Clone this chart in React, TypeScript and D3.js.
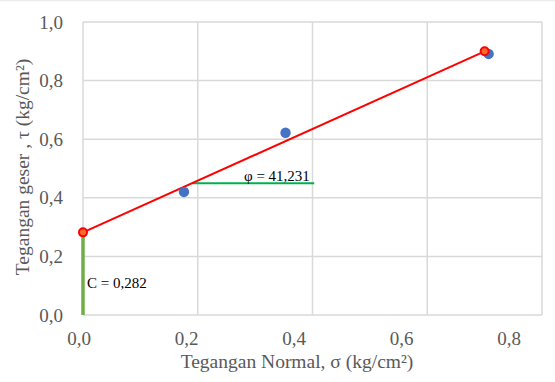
import { useEffect, useRef } from 'react'
import * as d3 from 'd3'

// measured points (normal stress vs shear stress)
const sigmaValues = [0.176, 0.353, 0.707]
const tauValues = [0.42, 0.622, 0.891]

// failure envelope end points
const envelopeSigma = [0, 0.7]
const envelopeTau = [0.282, 0.9]

const cohesion = 0.282
const cohesionLabel = 'C = 0,282'
const phiLabel = 'φ = 41,231'
const phiLineSigma = [0.19, 0.403]
const phiLineTau = 0.45

const xTicks = [0, 0.2, 0.4, 0.6, 0.8]
const yTicks = [0, 0.2, 0.4, 0.6, 0.8, 1.0]

const xTitle = 'Tegangan Normal, σ (kg/cm²)'
const yTitle = 'Tegangan geser , τ (kg/cm²)'

const fmt = (v: number) => v.toFixed(1).replace('.', ',')

export default function App() {
  const svgRef = useRef<SVGSVGElement>(null)
  const width = 555
  const height = 382

  useEffect(() => {
    if (!svgRef.current) return
    const svg = d3.select(svgRef.current)
    svg.selectAll('*').remove()

    const x = d3.scaleLinear().domain([0, 0.8]).range([83, 542])
    const y = d3.scaleLinear().domain([0, 1]).range([315, 22])
    // tick labels sit slightly left of their gridlines in the original
    const xLab = d3.scaleLinear().domain([0, 0.8]).range([79, 509])

    const font = "'Liberation Serif', 'Times New Roman', serif"

    // faint frame line at top
    svg.append('line')
      .attr('x1', 0).attr('x2', width)
      .attr('y1', 0.5).attr('y2', 0.5)
      .style('stroke', '#ececec')
      .style('stroke-width', '1.5px')

    // gridlines
    svg.selectAll('line.hgrid')
      .data(yTicks)
      .enter()
      .append('line')
      .attr('class', 'hgrid')
      .attr('x1', x(0)).attr('x2', x(0.8))
      .attr('y1', d => y(d)).attr('y2', d => y(d))
      .style('stroke', '#d9d9d9')
      .style('stroke-width', '1.5px')

    svg.selectAll('line.vgrid')
      .data(xTicks)
      .enter()
      .append('line')
      .attr('class', 'vgrid')
      .attr('x1', d => x(d)).attr('x2', d => x(d))
      .attr('y1', y(0)).attr('y2', y(1))
      .style('stroke', '#d9d9d9')
      .style('stroke-width', '1.5px')

    // tick labels
    yTicks.forEach(t => {
      svg.append('text')
        .attr('x', 63)
        .attr('y', y(t) + 6.5)
        .attr('text-anchor', 'end')
        .style('fill', '#595959')
        .style('font-size', '19px')
        .style('font-family', font)
        .text(fmt(t))
    })

    xTicks.forEach(t => {
      svg.append('text')
        .attr('x', xLab(t))
        .attr('y', 345)
        .attr('text-anchor', 'middle')
        .style('fill', '#595959')
        .style('font-size', '19px')
        .style('font-family', font)
        .text(fmt(t))
    })

    // axis titles
    svg.append('text')
      .attr('x', 297)
      .attr('y', 368)
      .attr('text-anchor', 'middle')
      .style('fill', '#595959')
      .style('font-size', '19.5px')
      .style('font-family', font)
      .text(xTitle)

    svg.append('text')
      .attr('transform', 'translate(29,167) rotate(-90)')
      .attr('text-anchor', 'middle')
      .style('fill', '#595959')
      .style('font-size', '19.5px')
      .style('font-family', font)
      .text(yTitle)

    // cohesion bar
    svg.append('line')
      .attr('x1', x(0)).attr('x2', x(0))
      .attr('y1', y(0)).attr('y2', y(cohesion))
      .style('stroke', '#70AD47')
      .style('stroke-width', '3.5px')

    // friction angle reference line
    svg.append('line')
      .attr('x1', x(phiLineSigma[0])).attr('x2', x(phiLineSigma[1]))
      .attr('y1', y(phiLineTau)).attr('y2', y(phiLineTau))
      .style('stroke', '#00B050')
      .style('stroke-width', '2px')

    // failure envelope
    const envelope = envelopeSigma.map((s, i) => ({ s, t: envelopeTau[i] }))
    svg.append('path')
      .datum(envelope)
      .attr('d', d3.line<{ s: number; t: number }>().x(d => x(d.s)).y(d => y(d.t)))
      .style('fill', 'none')
      .style('stroke', '#FF0000')
      .style('stroke-width', '2px')

    // measured points
    const points = sigmaValues.map((s, i) => ({ s, t: tauValues[i] }))
    svg.selectAll('circle.pt')
      .data(points)
      .enter()
      .append('circle')
      .attr('class', 'pt')
      .attr('cx', d => x(d.s))
      .attr('cy', d => y(d.t))
      .attr('r', 5.2)
      .style('fill', '#4472C4')

    svg.selectAll('circle.env')
      .data(envelope)
      .enter()
      .append('circle')
      .attr('class', 'env')
      .attr('cx', d => x(d.s))
      .attr('cy', d => y(d.t))
      .attr('r', 4)
      .style('fill', '#FF6A2A')
      .style('stroke', '#FF0000')
      .style('stroke-width', '2px')

    // annotations
    svg.append('text')
      .attr('x', 244)
      .attr('y', 181)
      .style('fill', '#000')
      .style('font-size', '15px')
      .style('font-family', font)
      .text(phiLabel)

    svg.append('text')
      .attr('x', 87)
      .attr('y', 288)
      .style('fill', '#000')
      .style('font-size', '15px')
      .style('font-family', font)
      .text(cohesionLabel)
  }, [])

  return (
    <svg
      ref={svgRef}
      width={width}
      height={height}
      style={{ position: 'absolute', left: 0, top: 0, background: '#fff' }}
    />
  )
}
